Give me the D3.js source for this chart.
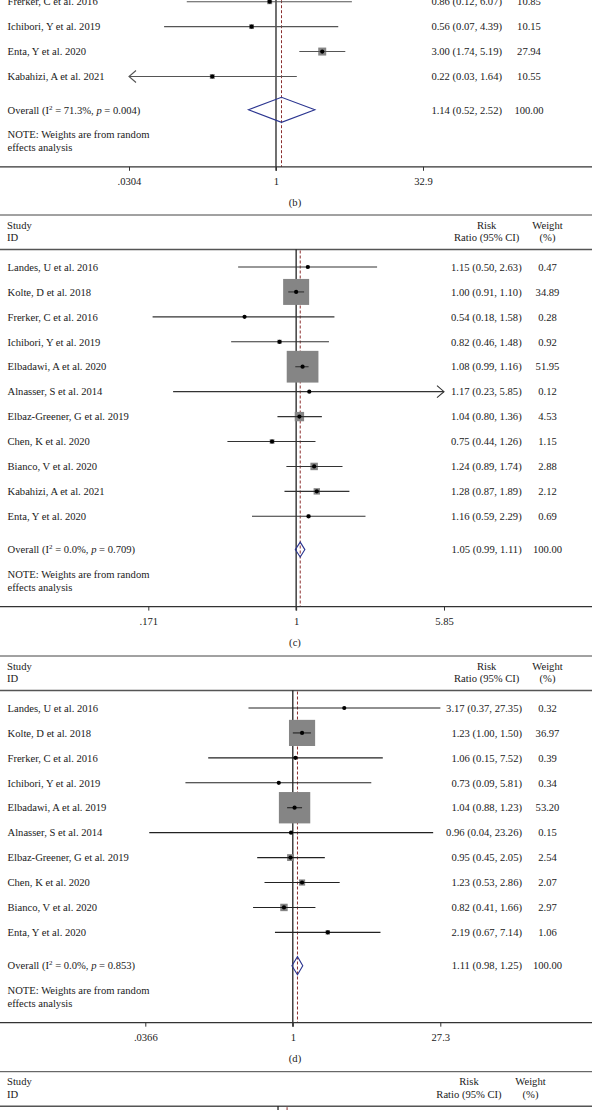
<!DOCTYPE html>
<html><head><meta charset="utf-8">
<script src="https://cdn.jsdelivr.net/npm/d3@7"></script>
<style>
html,body{margin:0;padding:0;background:#fff;}
svg{display:block;font-family:"Liberation Serif","Times New Roman",serif;}
</style></head><body>
<svg id="chart" width="592" height="1110"></svg>
<script>
// ---------- Panel (b) (partially visible) ----------
const bStudies = ["Frerker, C et al. 2016","Ichibori, Y et al. 2019","Enta, Y et al. 2020","Kabahizi, A et al. 2021"];
const bRR     = [0.86, 0.56, 3.00, 0.22];
const bLo     = [0.12, 0.07, 1.74, 0.03];
const bHi     = [6.07, 4.39, 5.19, 1.64];
const bWeight = [10.85, 10.15, 27.94, 10.55];
const bOverall = [1.14, 0.52, 2.52];
const bI2 = "71.3%", bP = "0.004";
const bTicks = [0.0304, 1, 32.9];
const bTickLabels = [".0304", "1", "32.9"];
const bClip = [0.0304, 32.9];

// ---------- Panel (c) ----------
const cStudies = ["Landes, U et al. 2016","Kolte, D et al. 2018","Frerker, C et al. 2016","Ichibori, Y et al. 2019","Elbadawi, A et al. 2020","Alnasser, S et al. 2014","Elbaz-Greener, G et al. 2019","Chen, K et al. 2020","Bianco, V et al. 2020","Kabahizi, A et al. 2021","Enta, Y et al. 2020"];
const cRR     = [1.15, 1.00, 0.54, 0.82, 1.08, 1.17, 1.04, 0.75, 1.24, 1.28, 1.16];
const cLo     = [0.50, 0.91, 0.18, 0.46, 0.99, 0.23, 0.80, 0.44, 0.89, 0.87, 0.59];
const cHi     = [2.63, 1.10, 1.58, 1.48, 1.16, 5.85, 1.36, 1.26, 1.74, 1.89, 2.29];
const cWeight = [0.47, 34.89, 0.28, 0.92, 51.95, 0.12, 4.53, 1.15, 2.88, 2.12, 0.69];
const cOverall = [1.05, 0.99, 1.11];
const cI2 = "0.0%", cP = "0.709";
const cTicks = [0.171, 1, 5.85];
const cTickLabels = [".171", "1", "5.85"];
const cClip = [0.171, 5.85];

// ---------- Panel (d) ----------
const dStudies = ["Landes, U et al. 2016","Kolte, D et al. 2018","Frerker, C et al. 2016","Ichibori, Y et al. 2019","Elbadawi, A et al. 2019","Alnasser, S et al. 2014","Elbaz-Greener, G et al. 2019","Chen, K et al. 2020","Bianco, V et al. 2020","Enta, Y et al. 2020"];
const dRR     = [3.17, 1.23, 1.06, 0.73, 1.04, 0.96, 0.95, 1.23, 0.82, 2.19];
const dLo     = [0.37, 1.00, 0.15, 0.09, 0.88, 0.04, 0.45, 0.53, 0.41, 0.67];
const dHi     = [27.35, 1.50, 7.52, 5.81, 1.23, 23.26, 2.05, 2.86, 1.66, 7.14];
const dWeight = [0.32, 36.97, 0.39, 0.34, 53.20, 0.15, 2.54, 2.07, 2.97, 1.06];
const dOverall = [1.11, 0.98, 1.25];
const dI2 = "0.0%", dP = "0.853";
const dTicks = [0.0366, 1, 27.3];
const dTickLabels = [".0366", "1", "27.3"];
const dClip = [0.0366, 27.4];

// ---------- Panel (e) (only header visible) ----------
const eNull = 1, eOverallRR = 1.24;
const eDomain = [0.0333, 30];

const panels = [
  {label:"(b)", studies:bStudies, rr:bRR, lo:bLo, hi:bHi, w:bWeight, overall:bOverall, i2:bI2, p:bP, ticks:bTicks, tickLabels:bTickLabels, clip:bClip},
  {label:"(c)", studies:cStudies, rr:cRR, lo:cLo, hi:cHi, w:cWeight, overall:cOverall, i2:cI2, p:cP, ticks:cTicks, tickLabels:cTickLabels, clip:cClip},
  {label:"(d)", studies:dStudies, rr:dRR, lo:dLo, hi:dHi, w:dWeight, overall:dOverall, i2:dI2, p:dP, ticks:dTicks, tickLabels:dTickLabels, clip:dClip}
];
// layout (pixel) settings per panel
const layouts = [
  {top:-50.3, xRange:[129,423],     rrRight:502,   wCenter:529,   hdrRR:469,   boxK:1.51, ci:"#555", dh:12.5},
  {top:215,   xRange:[148.3,444],   rrRight:521.7, wCenter:547.5, hdrRR:486.7, boxK:4.4,  ci:"#333", dh:7.5},
  {top:656,   xRange:[145.3,440.3], rrRight:522,   wCenter:547.5, hdrRR:486.7, boxK:4.3,  ci:"#222", dh:9}
];

const W = 592, FS = 10.6, TXT = "#1a1a1a";
const svg = d3.select("#chart");
const f2 = d3.format(".2f");

function header(g, T, L){
  g.append("line").attr("x1",0).attr("x2",W).attr("y1",T).attr("y2",T)
    .attr("stroke","#444").attr("stroke-width",1);
  g.append("line").attr("x1",0).attr("x2",W).attr("y1",T+34.5).attr("y2",T+34.5)
    .attr("stroke","#555").attr("stroke-width",1.6);
  const t = (x,y,s,anchor) => g.append("text").attr("x",x).attr("y",y).attr("dy","0.35em")
    .attr("font-size",FS).attr("fill",TXT).attr("text-anchor",anchor||"start").text(s);
  t(7, T+10, "Study"); t(7, T+22.5, "ID");
  t(L.hdrRR, T+10, "Risk", "middle"); t(L.hdrRR, T+22.5, "Ratio (95% CI)", "middle");
  t(L.wCenter, T+10, "Weight", "middle"); t(L.wCenter, T+22.5, "(%)", "middle");
}

function drawPanel(d, L){
  const g = svg.append("g");
  const x = d3.scaleLog().domain([d.ticks[0], d.ticks[d.ticks.length-1]]).range(L.xRange);
  const T = L.top, hb = T+34.5, row0 = T+52, step = 24.93;
  const n = d.studies.length;
  const yRow = i => row0 + i*step;
  const yOverall = yRow(n-1) + 33.3;
  const yNote = yOverall + 24.5;
  const yAxis = yNote + 32.5;

  header(g, T, L);

  // null line (solid) and overall line (dashed)
  g.append("line").attr("x1",x(1)).attr("x2",x(1)).attr("y1",hb).attr("y2",yAxis+4)
    .attr("stroke","#111").attr("stroke-width",1.2);
  g.append("line").attr("x1",x(d.overall[0])).attr("x2",x(d.overall[0])).attr("y1",hb+1).attr("y2",yAxis)
    .attr("stroke","#8b2e2e").attr("stroke-width",1).attr("stroke-dasharray","3,2");

  const rows = d.studies.map((s,i)=>({s, rr:d.rr[i], lo:d.lo[i], hi:d.hi[i], w:d.w[i], y:yRow(i)}));
  const [cmin, cmax] = d.clip;

  // squares
  g.selectAll("rect.box").data(rows).join("rect").attr("class","box")
    .attr("x", r => x(r.rr) - L.boxK*Math.sqrt(r.w)/2)
    .attr("y", r => r.y - L.boxK*Math.sqrt(r.w)/2)
    .attr("width", r => L.boxK*Math.sqrt(r.w))
    .attr("height", r => L.boxK*Math.sqrt(r.w))
    .attr("fill","#858585");
  // CI lines
  g.selectAll("line.ci").data(rows).join("line").attr("class","ci")
    .attr("x1", r => x(Math.max(r.lo, cmin))).attr("x2", r => x(Math.min(r.hi, cmax)))
    .attr("y1", r => r.y).attr("y2", r => r.y)
    .attr("stroke", L.ci).attr("stroke-width",1.1);
  // arrows
  rows.forEach(r=>{
    if (r.lo <= cmin){
      const ax = x(cmin);
      g.append("path").attr("d",`M${ax+7},${r.y-6}L${ax},${r.y}L${ax+7},${r.y+6}`)
        .attr("fill","none").attr("stroke",L.ci).attr("stroke-width",1.1);
    }
    if (r.hi >= cmax){
      const ax = x(cmax);
      g.append("path").attr("d",`M${ax-7},${r.y-6}L${ax},${r.y}L${ax-7},${r.y+6}`)
        .attr("fill","none").attr("stroke",L.ci).attr("stroke-width",1.1);
    }
  });
  // dots
  g.selectAll("circle.pt").data(rows).join("circle").attr("class","pt")
    .attr("cx", r => x(r.rr)).attr("cy", r => r.y).attr("r",2.1).attr("fill","#000");

  // labels
  g.selectAll("text.study").data(rows).join("text").attr("class","study")
    .attr("x",7.5).attr("y",r=>r.y).attr("dy","0.35em").attr("font-size",FS).attr("fill",TXT)
    .text(r=>r.s);
  g.selectAll("text.rr").data(rows).join("text").attr("class","rr")
    .attr("x",L.rrRight).attr("y",r=>r.y).attr("dy","0.35em").attr("font-size",FS).attr("fill",TXT)
    .attr("text-anchor","end").text(r=>`${f2(r.rr)} (${f2(r.lo)}, ${f2(r.hi)})`);
  g.selectAll("text.wt").data(rows).join("text").attr("class","wt")
    .attr("x",L.wCenter).attr("y",r=>r.y).attr("dy","0.35em").attr("font-size",FS).attr("fill",TXT)
    .attr("text-anchor","middle").text(r=>f2(r.w));

  // overall
  const [oe, ol, oh] = d.overall;
  g.append("path")
    .attr("d",`M${x(ol)},${yOverall}L${x(oe)},${yOverall-L.dh}L${x(oh)},${yOverall}L${x(oe)},${yOverall+L.dh}Z`)
    .attr("fill","none").attr("stroke","#2b3590").attr("stroke-width",1.1);
  const ot = g.append("text").attr("x",7.5).attr("y",yOverall).attr("dy","0.35em")
    .attr("font-size",FS).attr("fill",TXT);
  ot.append("tspan").text("Overall (I");
  ot.append("tspan").attr("font-size",7).attr("dy","-4").text("2");
  ot.append("tspan").attr("dy","4").text(` = ${d.i2}, `);
  ot.append("tspan").attr("font-style","italic").text("p");
  ot.append("tspan").text(` = ${d.p})`);
  g.append("text").attr("x",L.rrRight).attr("y",yOverall).attr("dy","0.35em").attr("font-size",FS)
    .attr("fill",TXT).attr("text-anchor","end").text(`${f2(oe)} (${f2(ol)}, ${f2(oh)})`);
  g.append("text").attr("x",L.wCenter).attr("y",yOverall).attr("dy","0.35em").attr("font-size",FS)
    .attr("fill",TXT).attr("text-anchor","middle").text("100.00");

  // note
  g.append("text").attr("x",7.5).attr("y",yNote).attr("dy","0.35em").attr("font-size",FS).attr("fill",TXT)
    .text("NOTE: Weights are from random");
  g.append("text").attr("x",7.5).attr("y",yNote+13).attr("dy","0.35em").attr("font-size",FS).attr("fill",TXT)
    .text("effects analysis");

  // axis
  g.append("line").attr("x1",0).attr("x2",W).attr("y1",yAxis).attr("y2",yAxis)
    .attr("stroke","#333").attr("stroke-width",1.3);
  const axis = d3.axisBottom(x).tickValues(d.ticks)
    .tickFormat((v,i)=>d.tickLabels[i]).tickSize(4).tickPadding(6.5);
  const ag = g.append("g").attr("transform",`translate(0,${yAxis})`).call(axis);
  ag.select(".domain").remove();
  ag.attr("font-family",null).attr("font-size",FS);
  ag.selectAll(".tick line").attr("stroke","#333");
  ag.selectAll(".tick text").attr("fill",TXT);

  // panel label
  g.append("text").attr("x",295).attr("y",yAxis+35.5).attr("dy","0.35em").attr("font-size",FS)
    .attr("fill",TXT).attr("text-anchor","middle").text(d.label);
}

panels.forEach((p,i)=>drawPanel(p, layouts[i]));

// panel (e): header only
(function(){
  const L = {hdrRR:469, wCenter:530.5};
  const T = 1071.7;
  const g = svg.append("g");
  header(g, T, L);
  const x = d3.scaleLog().domain(eDomain).range([135,421]);
  g.append("line").attr("x1",x(eNull)).attr("x2",x(eNull)).attr("y1",T+34.5).attr("y2",1120)
    .attr("stroke","#111").attr("stroke-width",1.2);
  g.append("line").attr("x1",x(eOverallRR)).attr("x2",x(eOverallRR)).attr("y1",T+35.5).attr("y2",1120)
    .attr("stroke","#8b2e2e").attr("stroke-width",1).attr("stroke-dasharray","3,2");
})();
</script>
</body></html>
